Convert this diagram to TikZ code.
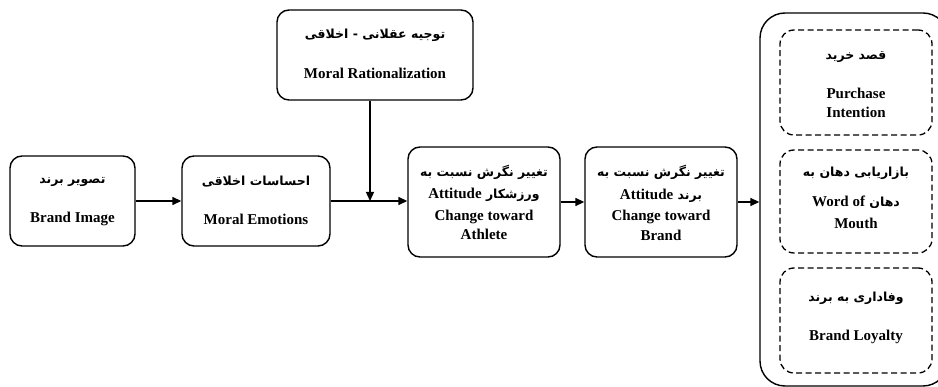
\documentclass[tikz,border=0pt]{standalone}
\usepackage{fontspec}
\setmainfont{Liberation Serif}
\newfontfamily\fa[Script=Arabic]{DejaVu Sans}
\TeXXeTstate=1
\usetikzlibrary{arrows.meta}
\tikzset{
  box/.style={draw, line width=1.4pt, rounded corners=12pt, inner sep=0pt},
  dbox/.style={draw, line width=1.3pt, rounded corners=14pt, dash pattern=on 6pt off 3.5pt, inner sep=0pt},
  en/.style={font=\fontsize{15}{17}\selectfont\bfseries, inner sep=0pt},
  pe/.style={font=\fa\fontsize{12.5}{14}\selectfont\bfseries, inner sep=0pt},
  arr/.style={line width=1.4pt, -{Triangle[length=9pt,width=8pt]}},
}
\newcommand{\enw}[1]{{\fontsize{15}{17}\selectfont\rmfamily\bfseries #1}}
\begin{document}
\begin{tikzpicture}[x=1pt,y=-1pt]
\useasboundingbox (0,0) rectangle (938,387);
\clip (0,0) rectangle (938,387);
% boxes
\node[box, minimum width=125pt, minimum height=90pt] (b1) at (72.5,201) {};
\node[box, minimum width=148pt, minimum height=90pt] (b2) at (256,201) {};
\node[box, minimum width=196pt, minimum height=90pt] (b3) at (375,55) {};
\node[box, minimum width=152pt, minimum height=110pt] (b4) at (484,202) {};
\node[box, minimum width=152pt, minimum height=110pt] (b5) at (661,202) {};
\node[draw, line width=1.4pt, rounded corners=25pt, inner sep=0pt, minimum width=188pt, minimum height=373pt] (out) at (854,199.5) {};
\node[dbox, minimum width=152pt, minimum height=105pt] (d1) at (856,82.5) {};
\node[dbox, minimum width=152pt, minimum height=103pt] (d2) at (856,201.5) {};
\node[dbox, minimum width=152pt, minimum height=105pt] (d3) at (856,320.5) {};
% texts
\node[pe] (t1a) at (72.5,182) {\beginR تصویر برند\endR};
\node[en] (t1b) at (72.5,219) {Brand Image};
\node[pe] (t2a) at (256,182) {\beginR احساسات اخلاقی\endR};
\node[en] (t2b) at (256,219) {Moral Emotions};
\node[pe] (t3a) at (375,35) {\beginR توجیه عقلانی - اخلاقی\endR};
\node[en] (t3b) at (375,73) {Moral Rationalization};
\node[pe] (t4a) at (484,172) {\beginR تغییر نگرش نسبت به\endR};
\node[pe] (t4b) at (484,195) {\beginR ورزشکار \beginL\enw{Attitude}\endL\endR};
\node[en] (t4c) at (484,217) {Change toward};
\node[en] (t4d) at (484,234) {Athlete};
\node[pe] (t5a) at (661,172) {\beginR تغییر نگرش نسبت به\endR};
\node[pe] (t5b) at (661,196) {\beginR برند \beginL\enw{Attitude}\endL\endR};
\node[en] (t5c) at (661,217) {Change toward};
\node[en] (t5d) at (661,235) {Brand};
\node[pe] (r1a) at (856,57) {\beginR قصد خرید\endR};
\node[en] (r1b) at (856,93) {Purchase};
\node[en] (r1c) at (856,112) {Intention};
\node[pe] (r2a) at (856,173) {\beginR بازاریابی دهان به\endR};
\node[pe] (r2b) at (856,202) {\beginR دهان \beginL\enw{Word of}\endL\endR};
\node[en] (r2c) at (856,223) {Mouth};
\node[pe] (r3a) at (856,298) {\beginR وفاداری به برند\endR};
\node[en] (r3b) at (856,337) {Brand Loyalty};
% connectors
\coordinate (j) at (370,201);
\draw[arr] (b1.east) -- (b2.west);
\draw[arr] (b2.east) -- (b4.west |- b2.east);
\draw[arr] (b3.south -| j) -- (j);
\draw[arr] (b4.east) -- (b5.west);
\draw[arr] (b5.east) -- (out.west |- b5.east);
\end{tikzpicture}
\end{document}
